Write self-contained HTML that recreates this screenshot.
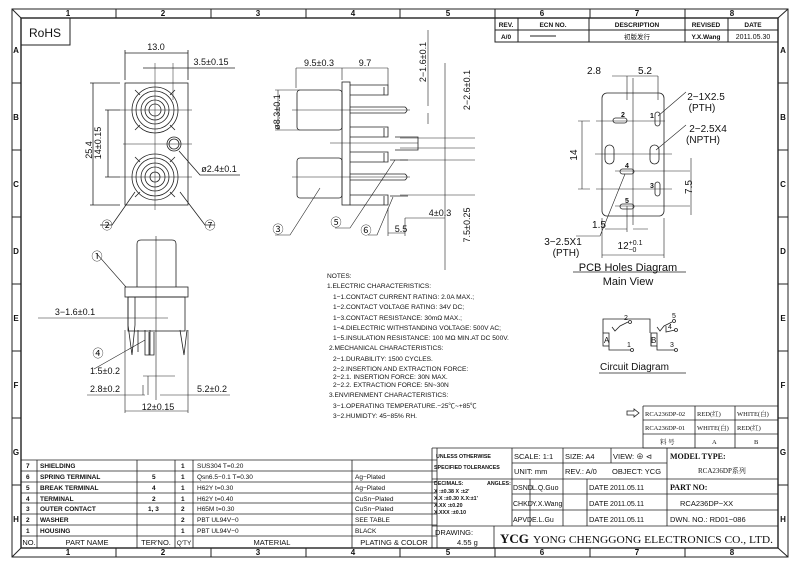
<!DOCTYPE html>
<html><head><meta charset="utf-8"><style>
html,body{margin:0;padding:0;background:#fff;}
svg{display:block;font-family:"Liberation Sans","Noto Sans CJK SC",sans-serif;}
text{fill:#111;}
</style></head><body>
<svg width="800" height="565" viewBox="0 0 800 565" xmlns="http://www.w3.org/2000/svg">
<g fill="none" stroke="#222" stroke-width="1">
<rect x="12" y="9" width="776" height="548"/>
<rect x="21" y="18" width="757" height="530" stroke-width="1.4"/>
<line x1="12" y1="9" x2="21" y2="18"/><line x1="788" y1="9" x2="778" y2="18"/><line x1="12" y1="557" x2="21" y2="548"/><line x1="788" y1="557" x2="778" y2="548"/>
<path d="M116 9V18M211 9V18M306 9V18M400 9V18M495 9V18M590 9V18M685 9V18M116 548V557M211 548V557M306 548V557M400 548V557M495 548V557M590 548V557M685 548V557"/>
<path d="M12 83H21M12 150H21M12 217H21M12 284H21M12 351H21M12 418H21M12 485H21M778 83H788M778 150H788M778 217H788M778 284H788M778 351H788M778 418H788M778 485H788"/>
<rect x="21" y="18" width="49" height="27"/>
<rect x="495" y="18" width="283" height="24"/>
<path d="M495 30H778M518 18V42M589 18V42M685 18V42M728 18V42M530 36H556"/>
</g>
<g font-size="8" font-weight="bold" text-anchor="middle">
<text x="68" y="16">1</text><text x="163" y="16">2</text><text x="258" y="16">3</text><text x="353" y="16">4</text><text x="448" y="16">5</text><text x="542" y="16">6</text><text x="637" y="16">7</text><text x="732" y="16">8</text>
<text x="68" y="555">1</text><text x="163" y="555">2</text><text x="258" y="555">3</text><text x="353" y="555">4</text><text x="448" y="555">5</text><text x="542" y="555">6</text><text x="637" y="555">7</text><text x="732" y="555">8</text>
<text x="16" y="53">A</text><text x="16" y="120">B</text><text x="16" y="187">C</text><text x="16" y="254">D</text><text x="16" y="321">E</text><text x="16" y="388">F</text><text x="16" y="455">G</text><text x="16" y="522">H</text>
<text x="783" y="53">A</text><text x="783" y="120">B</text><text x="783" y="187">C</text><text x="783" y="254">D</text><text x="783" y="321">E</text><text x="783" y="388">F</text><text x="783" y="455">G</text><text x="783" y="522">H</text>
</g>
<text x="29" y="37" font-size="12">RoHS</text>
<g font-size="6.5" font-weight="bold" text-anchor="middle">
<text x="506" y="27">REV.</text><text x="553" y="27">ECN NO.</text><text x="637" y="27">DESCRIPTION</text><text x="706" y="27">REVISED</text><text x="753" y="27">DATE</text>
<text x="506" y="39">A/0</text><text x="637" y="39" font-weight="normal">初版发行</text><text x="706" y="39">Y.X.Wang</text><text x="753" y="39" font-weight="normal" font-size="7">2011.05.30</text>
</g>

<!-- FRONT VIEW -->
<g fill="none" stroke="#222" stroke-width="0.8">
<rect x="125" y="83" width="63" height="122"/>
<circle cx="155" cy="110" r="23"/><circle cx="155" cy="110" r="19"/><circle cx="155" cy="110" r="14"/><circle cx="155" cy="110" r="10"/><circle cx="155" cy="110" r="6"/>
<circle cx="155" cy="177" r="23"/><circle cx="155" cy="177" r="19"/><circle cx="155" cy="177" r="14"/><circle cx="155" cy="177" r="10"/><circle cx="155" cy="177" r="5"/>
<circle cx="174" cy="144" r="7"/><circle cx="174" cy="144" r="5"/>
<path d="M135 90l5 5M175 90l-5 5M135 130l5-5M175 130l-5-5M135 157l5 5M175 157l-5 5M135 197l5-5M175 197l-5-5"/>
<path d="M120 110H192M123 144H192M120 177H192M155 63V210M173 63V100" stroke-width="0.5"/>
<path d="M125 50V80M188 50V80M125 53H188M143 68H235M173 68H180M90 83H120M90 205H120M93 83V205M105 110H120M105 177H120M108 110V177"/>
<path d="M179 151L200 175H240M135 192L112 225H100M180 192L205 225H215"/>
</g>
<g font-size="9" text-anchor="middle">
<text x="156" y="50">13.0</text><text x="211" y="65">3.5±0.15</text>
<text x="219" y="172">ø2.4±0.1</text>
<text transform="translate(92,150) rotate(-90)">25.4</text>
<text transform="translate(101,143) rotate(-90)">14±0.15</text>
<text x="107" y="229" font-size="11">②</text><text x="210" y="229" font-size="11">⑦</text>
</g>

<!-- SIDE VIEW -->
<g fill="none" stroke="#222" stroke-width="0.8">
<rect x="297" y="90" width="45" height="40" rx="3"/>
<rect x="297" y="158" width="45" height="40" rx="3"/>
<rect x="342" y="82" width="8" height="123"/>
<path d="M350 85H388V95H350M350 127H388V137H350M350 152H388V162H350M350 195H388V205H350M384 87V95M384 128V137M384 153V162M384 196V205"/>
<path d="M350 107H405Q409 110 405 113H350M350 174H405Q409 177 405 180H350M395 137H418V150H395M390 160H408M390 196H408"/>
<path d="M292 110H410M292 177H410M330 143H418M300 90H275M300 130H275M278 90V130M296 68V88M342 68V80M388 68V85M296 68H388M428 30V106M428 113V124M445 63V270M400 138H475M400 148H475M400 160H475M400 195H475M405 218H445M388 208V236M405 225V236M388 233H405M405 218V230" stroke-width="0.6"/>
<path d="M320 188L290 235H275M395 160L350 228H335M393 197L377 235H368" stroke-width="0.6"/>
</g>
<g font-size="9" text-anchor="middle">
<text x="319" y="66">9.5±0.3</text><text x="365" y="66">9.7</text>
<text transform="translate(280,112) rotate(-90)">ø8.3±0.1</text>
<text transform="translate(426,62) rotate(-90)">2−1.6±0.1</text>
<text transform="translate(470,90) rotate(-90)">2−2.6±0.1</text>
<text transform="translate(470,225) rotate(-90)">7.5±0.25</text>
<text x="440" y="216">4±0.3</text><text x="401" y="232">5.5</text>
<text x="278" y="233" font-size="11">③</text><text x="336" y="226" font-size="11">⑤</text><text x="366" y="234" font-size="11">⑥</text>
</g>

<!-- BOTTOM-LEFT VIEW -->
<g fill="none" stroke="#222" stroke-width="0.8">
<path d="M137 287V244Q137 240 141 240H172Q176 240 176 244V287"/>
<rect x="125" y="287" width="63" height="10"/>
<rect x="128" y="297" width="57" height="34"/>
<path d="M128 297V325L132 355L135 325V297M180 330L184 355L187 330M145 330V355H150V330M149 332V355H154V332M138 330V352"/>
<path d="M156 236V400M38 318H145M140 318H168M125 330V413M188 330V413M125 411H188M143 376H175M143 385V395M148 376V395M87 395H145M160 395H230M94 369L145 340M97 254L126 287" stroke-width="0.6"/>
</g>
<g font-size="9" text-anchor="middle">
<text x="97" y="260" font-size="11">①</text><text x="98" y="357" font-size="11">④</text>
<text x="75" y="315">3−1.6±0.1</text><text x="105" y="374">1.5±0.2</text><text x="105" y="392">2.8±0.2</text>
<text x="212" y="392">5.2±0.2</text><text x="158" y="410">12±0.15</text>
</g>

<!-- NOTES -->
<g font-size="6.6">
<text x="327" y="278">NOTES:</text>
<text x="327" y="288">1.ELECTRIC CHARACTERISTICS:</text>
<text x="333" y="299">1−1.CONTACT CURRENT RATING: 2.0A MAX.;</text>
<text x="333" y="309">1−2.CONTACT VOLTAGE RATING: 34V DC;</text>
<text x="333" y="320">1−3.CONTACT RESISTANCE: 30mΩ MAX.;</text>
<text x="333" y="330">1−4.DIELECTRIC WITHSTANDING VOLTAGE: 500V AC;</text>
<text x="333" y="340">1−5.INSULATION RESISTANCE: 100 MΩ MIN.AT DC 500V.</text>
<text x="329" y="350">2.MECHANICAL CHARACTERISTICS:</text>
<text x="333" y="361">2−1.DURABILITY: 1500 CYCLES.</text>
<text x="333" y="371">2−2.INSERTION AND EXTRACTION FORCE:</text>
<text x="333" y="379">2−2.1. INSERTION FORCE:     30N MAX.</text>
<text x="333" y="387">2−2.2. EXTRACTION FORCE: 5N~30N</text>
<text x="329" y="397">3.ENVIRENMENT CHARACTERISTICS:</text>
<text x="333" y="408">3−1.OPERATING TEMPERATURE.−25℃~+85℃</text>
<text x="333" y="418">3−2.HUMIDTY: 45−85% RH.</text>
</g>

<!-- PCB HOLES -->
<g fill="none" stroke="#222" stroke-width="0.8">
<rect x="602" y="93" width="62" height="123" rx="5"/>
<rect x="613" y="118" width="14" height="5" rx="2.5"/><rect x="655" y="112" width="5" height="14" rx="2.5"/>
<rect x="605" y="145" width="9" height="19" rx="4.5"/><rect x="650" y="145" width="9" height="19" rx="4.5"/>
<rect x="620" y="169" width="14" height="5" rx="2.5"/><rect x="655" y="182" width="5" height="14" rx="2.5"/><rect x="620" y="204" width="14" height="5" rx="2.5"/>
<path d="M633 78V225M596 121H665M595 154H672M615 171H690M596 189H672M615 206H690M582 121V189M578 121H590M578 189H590M691 158V215M627 76V100M658 76V100M612 76H658M602 218V258M664 218V258M602 255H664M627 206V232M633 229H648M605 229H627M686 92L658 116M686 125L656 150M600 236L625 174M576 236H600" stroke-width="0.6"/>
<path d="M573 272H686"/>
</g>
<g font-size="10" text-anchor="middle">
<text x="594" y="74">2.8</text><text x="645" y="74">5.2</text>
<text x="706" y="100">2−1X2.5</text><text x="702" y="111">(PTH)</text>
<text x="708" y="132">2−2.5X4</text><text x="703" y="143">(NPTH)</text>
<text transform="translate(577,155) rotate(-90)">14</text>
<text transform="translate(692,187) rotate(-90)">7.5</text>
<text x="599" y="228">1.5</text>
<text x="563" y="245">3−2.5X1</text><text x="566" y="256">(PTH)</text>
<text x="630" y="249">12<tspan font-size="7" dy="-4">+0.1</tspan><tspan font-size="7" dx="-14" dy="7">−0</tspan></text>
<text x="628" y="271" font-size="11">PCB Holes Diagram</text>
<text x="628" y="285" font-size="11">Main View</text>
<g font-size="7" font-weight="bold"><text x="623" y="117">2</text><text x="652" y="118">1</text><text x="627" y="168">4</text><text x="652" y="188">3</text><text x="627" y="203">5</text></g>
</g>

<!-- CIRCUIT -->
<g fill="none" stroke="#222" stroke-width="0.8">
<path d="M603 333V319H650V333M609 346V350H631M657 346V350H675M651 346V333"/>
<rect x="603" y="333" width="6" height="13"/>
<rect x="651" y="333" width="6" height="13"/>
<path d="M612 327L615 331L620 326L628 322M657 327L660 331L664 326L672 322M666 326V332L675 330"/>
<circle cx="630" cy="322" r="1.5"/><circle cx="632" cy="350" r="1.5"/><circle cx="674" cy="321" r="1.5"/><circle cx="676" cy="330" r="1.5"/><circle cx="676" cy="350" r="1.5"/>
<path d="M599 373H686"/>
</g>
<g font-size="8"><text x="604" y="343">A</text><text x="651" y="343">B</text><text x="624" y="320" font-size="7">2</text><text x="627" y="347" font-size="7">1</text><text x="672" y="318" font-size="7">5</text><text x="668" y="329" font-size="7">4</text><text x="670" y="347" font-size="7">3</text></g>
<text x="600" y="370" font-size="10">Circuit  Diagram</text>

<!-- color table -->
<g fill="none" stroke="#222" stroke-width="0.8">
<path d="M643 406H778M643 420H778M643 434H778M643 448H778M643 406V448M695 406V448M735 406V448M778 406V448"/>
<path d="M627 411H634V409L639 413L634 417V415H627Z"/>
</g>
<g font-size="6.5" font-family="Liberation Serif,Noto Serif CJK SC,serif">
<text x="645" y="416">RCA236DP-02</text><text x="697" y="416">RED(红)</text><text x="737" y="416">WHITE(白)</text>
<text x="645" y="430">RCA236DP-01</text><text x="697" y="430">WHITE(白)</text><text x="737" y="430">RED(红)</text>
<text x="660" y="444">料  号</text><text x="712" y="444">A</text><text x="754" y="444">B</text>
</g>

<!-- parts table -->
<g fill="none" stroke="#222" stroke-width="0.8">
<path d="M21 460H437M21 471H437M21 482H437M21 493H437M21 503H437M21 514H437M21 525H437M21 536H437M37 460V548M137 460V548M175 460V548M193 460V548M352 460V548M437 448V548"/>
</g>
<g font-size="6.5" font-weight="bold">
<text x="26" y="468">7</text><text x="40" y="468">SHIELDING</text><text x="181" y="468">1</text><text x="197" y="468" font-weight="normal">SUS304 T=0.20</text>
<text x="26" y="479">6</text><text x="40" y="479">SPRING TERMINAL</text><text x="152" y="479">5</text><text x="181" y="479">1</text><text x="197" y="479" font-weight="normal">Qsn6.5−0.1 T=0.30</text><text x="355" y="479" font-weight="normal">Ag−Plated</text>
<text x="26" y="490">5</text><text x="40" y="490">BREAK TERMINAL</text><text x="152" y="490">4</text><text x="181" y="490">1</text><text x="197" y="490" font-weight="normal">H62Y t=0.30</text><text x="355" y="490" font-weight="normal">Ag−Plated</text>
<text x="26" y="501">4</text><text x="40" y="501">TERMINAL</text><text x="152" y="501">2</text><text x="181" y="501">1</text><text x="197" y="501" font-weight="normal">H62Y t=0.40</text><text x="355" y="501" font-weight="normal">CuSn−Plated</text>
<text x="26" y="511">3</text><text x="40" y="511">OUTER CONTACT</text><text x="148" y="511">1, 3</text><text x="181" y="511">2</text><text x="197" y="511" font-weight="normal">H65M t=0.30</text><text x="355" y="511" font-weight="normal">CuSn−Plated</text>
<text x="26" y="522">2</text><text x="40" y="522">WASHER</text><text x="181" y="522">2</text><text x="197" y="522" font-weight="normal">PBT UL94V−0</text><text x="355" y="522" font-weight="normal">SEE TABLE</text>
<text x="26" y="533">1</text><text x="40" y="533">HOUSING</text><text x="181" y="533">1</text><text x="197" y="533" font-weight="normal">PBT UL94V−0</text><text x="355" y="533" font-weight="normal">BLACK</text>
</g>
<g font-size="7.5" text-anchor="middle">
<text x="29" y="545">NO.</text><text x="87" y="545">PART NAME</text><text x="156" y="545">TER'NO.</text><text x="184" y="545" font-size="6.5">Q'TY</text><text x="272" y="545">MATERIAL</text><text x="394" y="545">PLATING &amp; COLOR</text>
</g>

<!-- title block -->
<g fill="none" stroke="#222" stroke-width="0.8">
<path d="M432 448H778M432 448V548M512 448V526M563 448V479M611 448V463M667 448V526M512 463H667M432 479H778M512 494H778M512 510H778M432 526H778M530 479V526M563 479V526M587 479V526M494 526V548"/>
</g>
<g font-size="5.3" font-weight="bold"><text x="436" y="458">UNLESS OTHERWISE</text><text x="434" y="469">SPECIFIED TOLERANCES</text>
<text x="434" y="485">DECIMALS:</text><text x="487" y="485">ANGLES:</text>
<text x="434" y="493">X     :±0.38  X  :±2'</text><text x="434" y="500">X.X   :±0.30  X.X:±1'</text><text x="434" y="507">X.XX :±0.20</text><text x="434" y="514">X.XXX :±0.10</text></g>
<g font-size="7.5">
<text x="514" y="459">SCALE: 1:1</text><text x="565" y="459">SIZE: A4</text><text x="613" y="459">VIEW: ⊕ ⊲</text>
<text x="514" y="474">UNIT: mm</text><text x="565" y="474">REV.: A/0</text><text x="612" y="474">OBJECT: YCG</text>
<text x="589" y="490">DATE</text><text x="610" y="490" font-size="7">2011.05.11</text>
<text x="589" y="506">DATE</text><text x="610" y="506" font-size="7">2011.05.11</text>
<text x="589" y="522">DATE</text><text x="610" y="522" font-size="7">2011.05.11</text>
<text x="435" y="535">DRAWING:</text><text x="457" y="545">4.55  g</text>
<text x="670" y="522">DWN. NO.: RD01−086</text><text x="680" y="506">RCA236DP−XX</text>
</g>
<g font-size="7">
<text x="513" y="490">DSND</text><text x="532" y="490">L.Q.Guo</text>
<text x="513" y="506">CHKD</text><text x="532" y="506">Y.X.Wang</text>
<text x="513" y="522">APVD</text><text x="532" y="522">E.L.Gu</text>
</g>
<g font-family="Liberation Serif,Noto Serif CJK SC,serif">
<text x="670" y="459" font-size="8" font-weight="bold">MODEL TYPE:</text>
<text x="698" y="473" font-size="7">RCA236DP系列</text>
<text x="670" y="490" font-size="8" font-weight="bold">PART NO:</text>
<text x="500" y="543" font-size="13" font-weight="bold">YCG</text>
<text x="533" y="543" font-size="10.5" textLength="240" lengthAdjust="spacingAndGlyphs">YONG CHENGGONG ELECTRONICS CO., LTD.</text>
</g>
</svg>
</body></html>
